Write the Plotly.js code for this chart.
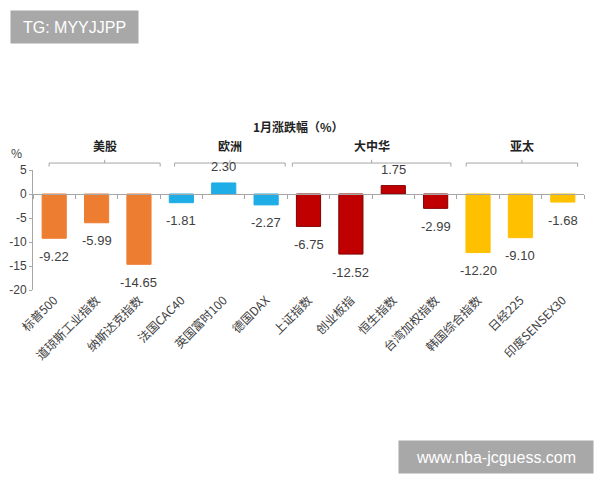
<!DOCTYPE html>
<html>
<head>
<meta charset="utf-8">
<script src="https://cdn.plot.ly/plotly-3.0.1.min.js"></script>
<style>html,body{margin:0;padding:0;background:#fff;}#chart{width:600px;height:480px;}</style>
</head>
<body>
<div id="chart"></div>
<script>
// ---- data ----
var categories = ['标普500','道琼斯工业指数','纳斯达克指数','法国CAC40','英国富时100','德国DAX','上证指数','创业板指','恒生指数','台湾加权指数','韩国综合指数','日经225','印度SENSEX30'];
var values = [-9.22, -5.99, -14.65, -1.81, 2.30, -2.27, -6.75, -12.52, 1.75, -2.99, -12.20, -9.10, -1.68];
var groupNames = ['美股','欧洲','大中华','亚太'];
var groupOf = [0,0,0,1,1,1,2,2,2,2,3,3,3];
var yTicks = [5, 0, -5, -10, -15, -20];

// ---- styles ----
var groupColors = ['#ED7D31','#1EADE6','#C00000','#FFC000'];
var groupLines = ['#ED7D31','#1EADE6','#7f0000','#FFC000'];
var FONT = '"Noto Sans CJK SC", "Liberation Sans", Arial, sans-serif';
var TXT = '#404040';
var GRAY = '#a6a6a6';
// bracket extents (category-index units)
var bracketSpan = [[-0.12, 2.5], [2.84, 5.45], [5.62, 9.36], [9.72, 12.35]];

var barColors = values.map(function(v,i){ return groupColors[groupOf[i]]; });
var barLines = values.map(function(v,i){ return groupLines[groupOf[i]]; });

var traces = [
  {type:'bar', x:categories, y:values, width:0.57,
   marker:{color:barColors, line:{color:barLines, width:1}},
   hoverinfo:'x+y', showlegend:false},
  {type:'scatter', mode:'markers', x:categories, y:values.map(function(){return 0;}),
   xaxis:'x2', yaxis:'y', marker:{opacity:0}, hoverinfo:'skip', showlegend:false}
];

var annotations = [];
values.forEach(function(v,i){
  annotations.push({x:categories[i], y:v, xref:'x', yref:'y', text:v.toFixed(2),
    showarrow:false, yanchor:'middle', yshift: v < 0 ? -18 : 16,
    font:{family:'"Liberation Sans", Arial, sans-serif', size:13, color:TXT}});
});

var shapes = [];
var bTop = 1.058, bEnd = 1.028, bMid = 1.085;
groupNames.forEach(function(g,k){
  var a = bracketSpan[k][0], b = bracketSpan[k][1], m = (a+b)/2;
  var ln = {color:GRAY, width:1};
  shapes.push({type:'line', xref:'x', yref:'paper', x0:a, x1:b, y0:bTop, y1:bTop, line:ln});
  shapes.push({type:'line', xref:'x', yref:'paper', x0:a, x1:a, y0:bTop, y1:bEnd, line:ln});
  shapes.push({type:'line', xref:'x', yref:'paper', x0:b, x1:b, y0:bTop, y1:bEnd, line:ln});
  shapes.push({type:'line', xref:'x', yref:'paper', x0:m, x1:m, y0:bTop, y1:bMid, line:ln});
  annotations.push({x:m, y:1.205, xref:'x', yref:'paper', text:'<b>'+g+'</b>', showarrow:false,
    yanchor:'middle', font:{family:FONT, size:12, color:'#222'}});
});

// % unit label
annotations.push({x:0, y:1.142, xref:'paper', yref:'paper', text:'%', showarrow:false,
  xanchor:'right', xshift:-9, yanchor:'middle', font:{family:FONT, size:12, color:TXT}});

// watermark boxes
annotations.push({x:(10-33)/551, y:(290-10)/120, xref:'paper', yref:'paper', xanchor:'left', yanchor:'top',
  text:'TG: MYYJJPP', showarrow:false, width:125, height:30, bgcolor:'#a8a8a8', align:'center',
  font:{family:'"Liberation Sans", Arial, sans-serif', size:16, color:'#ffffff'}});
annotations.push({x:(398-33)/551, y:(290-440)/120, xref:'paper', yref:'paper', xanchor:'left', yanchor:'top',
  text:'www.nba-jcguess.com', showarrow:false, width:192, height:30, bgcolor:'#a8a8a8', align:'center',
  font:{family:'"Liberation Sans", Arial, sans-serif', size:16, color:'#ffffff'}});

var layout = {
  width:600, height:480,
  margin:{l:33, r:16, t:170, b:190},
  paper_bgcolor:'#fff', plot_bgcolor:'#fff',
  font:{family:FONT, color:TXT},
  title:{text:'<b>1月涨跌幅（%）</b>', x:0.497, xanchor:'center', y:(480-128)/480, yanchor:'middle', yref:'container',
    font:{family:FONT, size:12, color:'#222'}},
  xaxis:{type:'category', range:[-0.5, 12.5], showline:false, ticks:'', showgrid:false, zeroline:false,
    tickangle:-45, tickfont:{family:FONT, size:12, color:TXT}, fixedrange:true},
  xaxis2:{type:'category', overlaying:'x', anchor:'free', position:0.8, range:[-0.5, 12.5],
    showline:true, linecolor:GRAY, linewidth:1, ticks:'outside', tickson:'boundaries', ticklen:4,
    tickcolor:GRAY, showticklabels:false, showgrid:false, zeroline:false},
  yaxis:{range:[-20, 5], tickvals:yTicks, ticktext:yTicks.map(String), ticks:'outside', ticklen:3, tickcolor:GRAY,
    showline:true, linecolor:GRAY, linewidth:1, showgrid:false, zeroline:false,
    tickfont:{family:'"Liberation Sans", Arial, sans-serif', size:12, color:TXT}},
  bargap:0.43,
  showlegend:false,
  shapes:shapes,
  annotations:annotations
};

Plotly.newPlot('chart', traces, layout, {displayModeBar:false, staticPlot:true});
</script>
</body>
</html>
